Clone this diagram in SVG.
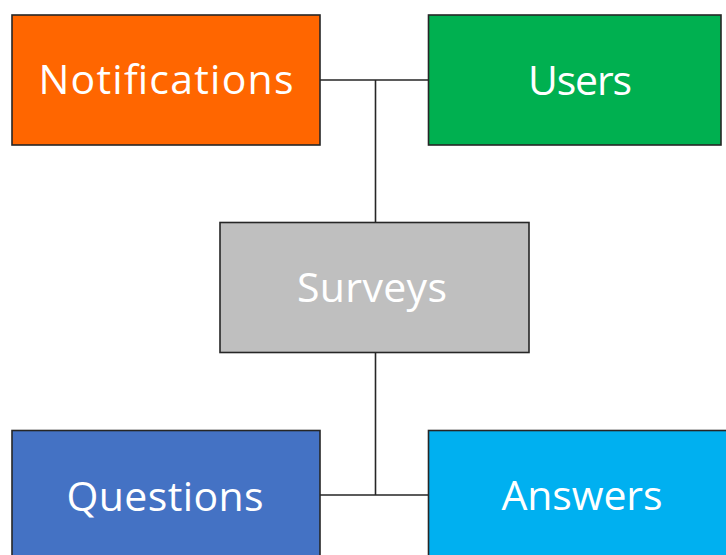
<svg xmlns="http://www.w3.org/2000/svg" width="726" height="555" viewBox="0 0 726 555">
<style>
.box{stroke:#262626;stroke-width:1.6}
.lbl{font-family:"Open Sans","Noto Sans",sans-serif;font-size:41px;fill:#ffffff;text-anchor:middle}
.conn{stroke:#262626;stroke-width:1.6;fill:none}
</style>
<rect width="726" height="555" fill="#ffffff"/>
<g id="connectors">
<path class="conn" d="M320,80 H428 M375.5,80 V222"/>
<path class="conn" d="M375.5,353 V495 M320,495 H428"/>
</g>
<g id="notifications">
<rect class="box" x="12" y="15" width="308" height="130" fill="#FF6600"/>
<text class="lbl" x="166" y="94" textLength="255" lengthAdjust="spacing">Notifications</text>
</g>
<g id="users">
<rect class="box" x="428.5" y="15" width="292.5" height="130" fill="#00B050"/>
<text class="lbl" x="580" y="95" textLength="104" lengthAdjust="spacing">Users</text>
</g>
<g id="surveys">
<rect class="box" x="220" y="222.5" width="309" height="130" fill="#BFBFBF"/>
<text class="lbl" x="372" y="302" textLength="150" lengthAdjust="spacing">Surveys</text>
</g>
<g id="questions">
<rect class="box" x="12" y="430.5" width="308" height="135" fill="#4472C4"/>
<text class="lbl" x="165" y="511" textLength="197" lengthAdjust="spacing">Questions</text>
</g>
<g id="answers">
<rect class="box" x="428.5" y="430.5" width="310" height="135" fill="#00B0F0"/>
<text class="lbl" x="582" y="510" textLength="161" lengthAdjust="spacing">Answers</text>
</g>
</svg>
